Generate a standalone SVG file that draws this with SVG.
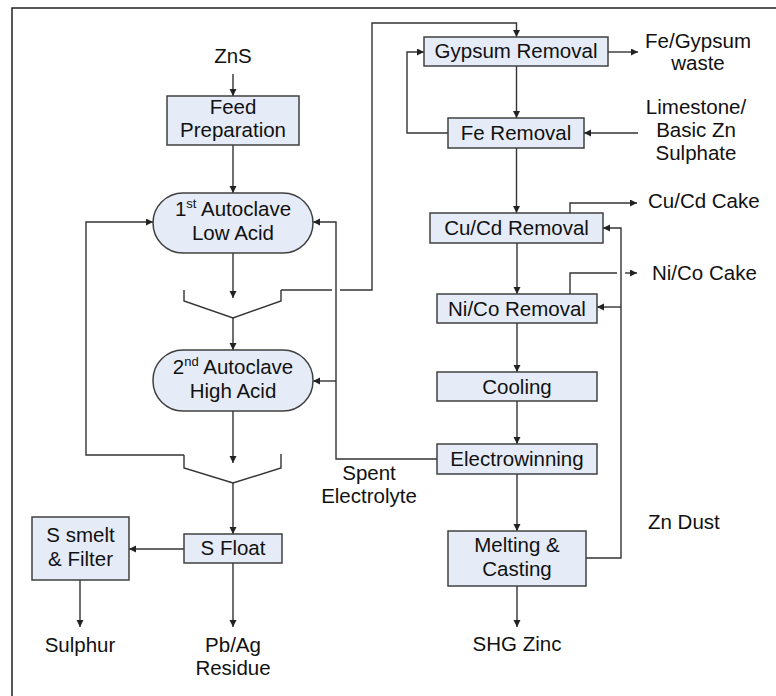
<svg xmlns="http://www.w3.org/2000/svg" width="776" height="696" viewBox="0 0 776 696">
<defs>
<marker id="ah" markerUnits="userSpaceOnUse" markerWidth="8" markerHeight="8" refX="7" refY="3.5" orient="auto">
<path d="M0,0 L7,3.5 L0,7 z" fill="#222"/>
</marker>
<style>
.box{fill:#E6ECF7;stroke:#404040;stroke-width:1.5}
.ln{fill:none;stroke:#333;stroke-width:1.4}
.ar{fill:none;stroke:#333;stroke-width:1.4;marker-end:url(#ah)}
text{font-family:"Liberation Sans",Arial,sans-serif;font-size:20.5px;fill:#111}
.c{text-anchor:middle}
</style>
</defs>
<rect width="776" height="696" fill="#fff"/>
<path d="M12,696 V8 H776" fill="none" stroke="#222" stroke-width="1.5"/>

<g id="connectors">
<path class="ar" d="M233,74 V96"/>
<path class="ar" d="M233,145 V193"/>
<path class="ar" d="M233,253 V298"/>
<path class="ar" d="M233,318 V350"/>
<path class="ar" d="M233,411 V463"/>
<path class="ar" d="M233,483 V534"/>
<path class="ar" d="M184,549 H129"/>
<path class="ar" d="M80,580 V627"/>
<path class="ar" d="M233,563 V627"/>
<path class="ar" d="M184,455 H86 V222 H153"/>
<path class="ar" d="M437,459 H336 V222 H313"/>
<path class="ar" d="M336,381 H313"/>
<path class="ln" d="M281,290 H332"/>
<path class="ar" d="M340,290 H372 V23 H516.5 V37"/>
<path class="ar" d="M608,52 H638"/>
<path class="ar" d="M516.5,66 V118"/>
<path class="ar" d="M448,133 H407 V52 H424"/>
<path class="ar" d="M638,133 H584"/>
<path class="ar" d="M516.5,148 V213"/>
<path class="ar" d="M570,213 V203 H637"/>
<path class="ar" d="M517,243 V294"/>
<path class="ln" d="M570,294 V273 H617"/>
<path class="ar" d="M625,273 H637"/>
<path class="ar" d="M517,323 V372"/>
<path class="ar" d="M517,401 V444"/>
<path class="ar" d="M517,474 V531"/>
<path class="ar" d="M517,586 V627"/>
<path class="ar" d="M586,558 H621 V228 H603"/>
<path class="ar" d="M621,307 H597"/>
</g>

<g id="zns"><text class="c" x="233" y="63">ZnS</text></g>
<g id="feed"><rect class="box" x="167" y="96" width="132" height="49"/><text class="c" x="233" y="114">Feed</text><text class="c" x="233" y="137">Preparation</text></g>
<g id="autoclave1"><rect class="box" x="153" y="193" width="160" height="60" rx="30" ry="30"/><text class="c" x="233" y="216">1<tspan font-size="13" dy="-8">st</tspan><tspan dy="8"> Autoclave</tspan></text><text class="c" x="233" y="240">Low Acid</text></g>
<g id="junction1"><polyline class="ln" points="184,290 184,301 233,318 281,301 281,290"/></g>
<g id="autoclave2"><rect class="box" x="153" y="350" width="160" height="61" rx="30" ry="30"/><text class="c" x="233" y="374">2<tspan font-size="13" dy="-8">nd</tspan><tspan dy="8"> Autoclave</tspan></text><text class="c" x="233" y="398">High Acid</text></g>
<g id="junction2"><polyline class="ln" points="184,455 184,468 233,483 281,468 281,454"/></g>
<g id="sfloat"><rect class="box" x="184" y="534" width="98" height="29"/><text class="c" x="233" y="555">S Float</text></g>
<g id="ssmelt"><rect class="box" x="32" y="517" width="97" height="63"/><text class="c" x="80.5" y="542">S smelt</text><text class="c" x="80.5" y="566">&amp; Filter</text></g>
<g id="sulphur"><text class="c" x="80" y="652">Sulphur</text></g>
<g id="pbag"><text class="c" x="233" y="652">Pb/Ag</text><text class="c" x="233" y="675">Residue</text></g>
<g id="gypsum"><rect class="box" x="424" y="37" width="184" height="29"/><text class="c" x="516" y="58">Gypsum Removal</text></g>
<g id="fegypsum"><text class="c" x="698" y="48">Fe/Gypsum</text><text class="c" x="698" y="70">waste</text></g>
<g id="fe"><rect class="box" x="448" y="118" width="136" height="30"/><text class="c" x="516" y="140">Fe Removal</text></g>
<g id="limestone"><text class="c" x="696" y="114">Limestone/</text><text class="c" x="696" y="137">Basic Zn</text><text class="c" x="696" y="160">Sulphate</text></g>
<g id="cucd"><rect class="box" x="430" y="213" width="173" height="30"/><text class="c" x="516.5" y="235">Cu/Cd Removal</text></g>
<g id="cucdcake"><text x="648" y="208">Cu/Cd Cake</text></g>
<g id="nico"><rect class="box" x="437" y="294" width="160" height="29"/><text class="c" x="517" y="316">Ni/Co Removal</text></g>
<g id="nicocake"><text x="652" y="280">Ni/Co Cake</text></g>
<g id="cooling"><rect class="box" x="437" y="372" width="160" height="29"/><text class="c" x="517" y="394">Cooling</text></g>
<g id="electro"><rect class="box" x="437" y="444" width="160" height="30"/><text class="c" x="517" y="466">Electrowinning</text></g>
<g id="spent"><text class="c" x="369" y="480">Spent</text><text class="c" x="369" y="503">Electrolyte</text></g>
<g id="melting"><rect class="box" x="448" y="531" width="138" height="55"/><text class="c" x="517" y="552">Melting &amp;</text><text class="c" x="517" y="576">Casting</text></g>
<g id="zndust"><text x="648" y="529">Zn Dust</text></g>
<g id="shg"><text class="c" x="517" y="651">SHG Zinc</text></g>
</svg>
